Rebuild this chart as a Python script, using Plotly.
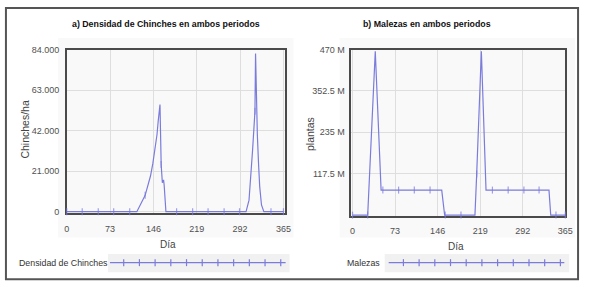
import plotly.graph_objects as go

W, H = 589, 287

# ---------------- data ----------------
chin_days = [0, 26, 53, 79, 106, 118, 132, 141, 145, 149, 152, 154, 156, 157,
             158, 159, 161, 163, 164, 167, 185, 212, 238, 265, 291, 302, 307, 310, 313,
             315, 317, 318, 319, 321, 323, 325, 328, 332, 344, 365]
chin_vals = [0, 0, 0, 0, 0, 0, 8500, 18500, 25000, 33500, 40000, 47000, 52000, 55500,
             40000, 24500, 15000, 16500, 14000, 0, 0, 0, 0, 0, 0, 0, 6000, 17000, 32000,
             42000, 52000, 82000, 62000, 40000, 25000, 13000, 3500, 0, 0, 0]
chin_marker_days = [0, 26, 53, 79, 106, 132, 159, 185, 212, 238, 265, 291, 317, 344, 365]

mal_days = [0, 26, 39, 49, 52, 79, 106, 133, 153, 158, 159, 186, 210, 213, 221, 229,
            240, 267, 294, 320, 337, 340, 349, 365]
mal_vals_M = [0, 0, 465, 71, 71, 71, 71, 71, 71, 0, 0, 0, 0, 117, 465, 71,
              71, 71, 71, 71, 71, 0, 0, 0]
mal_marker_days = [0, 26, 52, 79, 106, 133, 159, 186, 213, 240, 267, 294, 320, 349, 365]

x_ticks = [0, 73, 146, 219, 292, 365]
chin_yticks = [0, 21000, 42000, 63000, 84000]
chin_yticktext = ["0", "21.000", "42.000", "63.000", "84.000"]
mal_yticks = [117.5e6, 235e6, 352.5e6, 470e6]
mal_yticktext = ["117.5 M", "235 M", "352.5 M", "470 M"]

title_a = "a) Densidad de Chinches en ambos periodos"
title_b = "b) Malezas en ambos periodos"
ylab_a = "Chinches/ha"
ylab_b = "plantas"
xlab = "Día"
leg_a = "Densidad de Chinches"
leg_b = "Malezas"
legend_marks = list(range(11))

# ---------------- style ----------------
FONT = "Liberation Sans Narrow, Arial Narrow, Liberation Sans, Arial, sans-serif"
LINE = "#7b7bdc"
AX = "#4a4a4a"
GRID = "#dedede"
TICKC = "#505050"
TS = 9

def px(x):
    return x / W

def py(y):
    return 1 - y / H

mal_vals = [v * 1e6 for v in mal_vals_M]

fig = go.Figure()

fig.add_trace(go.Scatter(
    x=chin_days, y=chin_vals, mode="lines+markers", xaxis="x", yaxis="y",
    line=dict(color=LINE, width=1.2),
    marker=dict(symbol="line-ns", size=[5 if d in chin_marker_days else 0 for d in chin_days],
                line=dict(color=LINE, width=1.2)),
    cliponaxis=False, showlegend=False, hoverinfo="skip"))

fig.add_trace(go.Scatter(
    x=mal_days, y=mal_vals, mode="lines+markers", xaxis="x2", yaxis="y2",
    line=dict(color=LINE, width=1.2),
    marker=dict(symbol="line-ns", size=[5 if d in mal_marker_days else 0 for d in mal_days],
                line=dict(color=LINE, width=1.2)),
    cliponaxis=False, showlegend=False, hoverinfo="skip"))

# legend samples
fig.add_trace(go.Scatter(
    x=legend_marks, y=[0] * len(legend_marks), mode="markers", xaxis="x3", yaxis="y3",
    marker=dict(symbol="line-ns", size=5, line=dict(color=LINE, width=1.2)),
    cliponaxis=False, showlegend=False, hoverinfo="skip"))
fig.add_trace(go.Scatter(
    x=legend_marks, y=[0] * len(legend_marks), mode="markers", xaxis="x4", yaxis="y4",
    marker=dict(symbol="line-ns", size=5, line=dict(color=LINE, width=1.2)),
    cliponaxis=False, showlegend=False, hoverinfo="skip"))

tickfont = dict(family=FONT, size=TS, color=TICKC)

def xaxis(domain, anchor, rng, standoff):
    return dict(domain=domain, anchor=anchor, range=rng, tickvals=x_ticks,
                showgrid=True, gridcolor=GRID, gridwidth=1, zeroline=False,
                showline=True, mirror=True, linecolor=AX, linewidth=1.5,
                ticks="", ticklen=0, tickfont=tickfont, ticklabelstandoff=standoff,
                layer="below traces", fixedrange=True)

def yaxis(domain, anchor, rng, vals, text, standoff):
    return dict(domain=domain, anchor=anchor, range=rng, tickvals=vals, ticktext=text,
                showgrid=True, gridcolor=GRID, gridwidth=1, zeroline=False,
                showline=True, mirror=True, linecolor=AX, linewidth=1.5,
                ticks="", ticklen=0, tickfont=tickfont, ticklabelstandoff=standoff,
                layer="below traces", fixedrange=True)

hidden = dict(visible=False, fixedrange=True)

fig.update_layout(
    width=W, height=H, margin=dict(l=0, r=0, t=0, b=0),
    paper_bgcolor="white", plot_bgcolor="#f6f6f6",
    font=dict(family=FONT, size=TS, color=TICKC),
    xaxis=xaxis([px(65), px(287)], "y", [0, 367], 6),
    yaxis=yaxis([py(215), py(46)], "x", [-800, 84000], chin_yticks, chin_yticktext, 4),
    xaxis2=xaxis([px(355), px(573)], "y2", [-2, 365], 5),
    yaxis2=yaxis([py(218), py(46)], "x2", [-3e6, 470e6], mal_yticks, mal_yticktext, 3),
    xaxis3=dict(domain=[px(109), px(288)], anchor="y3", range=[-0.875, 10.31], **hidden),
    yaxis3=dict(domain=[py(271), py(261)], anchor="x3", range=[-1, 1], **hidden),
    xaxis4=dict(domain=[px(393), px(572)], anchor="y4", range=[-0.94, 10.25], **hidden),
    yaxis4=dict(domain=[py(271), py(261)], anchor="x4", range=[-1, 1], **hidden),
)

shapes = [
    # faint panel backgrounds
    dict(type="rect", xref="paper", yref="paper", x0=px(56), x1=px(296), y0=py(240), y1=py(34),
         fillcolor="#f9f9f9", line=dict(width=0), layer="below"),
    dict(type="rect", xref="paper", yref="paper", x0=px(343), x1=px(583), y0=py(240), y1=py(34),
         fillcolor="#f9f9f9", line=dict(width=0), layer="below"),
    # legend backgrounds
    dict(type="rect", xref="paper", yref="paper", x0=px(107), x1=px(292), y0=py(276), y1=py(257),
         fillcolor="#f1f1f1", line=dict(width=0), layer="below"),
    dict(type="rect", xref="paper", yref="paper", x0=px(389), x1=px(577), y0=py(276), y1=py(257),
         fillcolor="#f1f1f1", line=dict(width=0), layer="below"),
    # legend lines
    dict(type="line", xref="x3 domain", yref="y3", x0=0, x1=1, y0=0, y1=0,
         line=dict(color=LINE, width=1.2)),
    dict(type="line", xref="x4 domain", yref="y4", x0=0, x1=1, y0=0, y1=0,
         line=dict(color=LINE, width=1.2)),
    # outer frame
    dict(type="rect", xref="paper", yref="paper", x0=px(3), x1=px(586), y0=py(283), y1=py(3),
         line=dict(color="#555555", width=2), fillcolor="rgba(0,0,0,0)"),
]
fig.update_layout(shapes=shapes)

ann = [
    dict(text="<b>" + title_a + "</b>", x=px(166), y=py(20), font=dict(size=8.8, color="#111")),
    dict(text="<b>" + title_b + "</b>", x=px(432), y=py(20), font=dict(size=8.8, color="#111")),
    dict(text=ylab_a, x=px(22), y=py(128), textangle=-90, font=dict(size=10.5, color="#444")),
    dict(text=ylab_b, x=px(313), y=py(133), textangle=-90, font=dict(size=10.5, color="#444")),
    dict(text=xlab, x=px(168), y=py(247), font=dict(size=10, color="#444")),
    dict(text=xlab, x=px(462), y=py(249), font=dict(size=10, color="#444")),
    dict(text=leg_a, x=px(109), y=py(266), xanchor="right", font=dict(size=8.8, color="#333")),
    dict(text=leg_b, x=px(386), y=py(266), xanchor="right", font=dict(size=8.8, color="#333")),
]
for a in ann:
    a.setdefault("xanchor", "center")
    a.update(xref="paper", yref="paper", yanchor="middle", showarrow=False)
fig.update_layout(annotations=ann)

fig.write_html("out.html", config={"displayModeBar": False},
               post_script="document.body.style.margin='0';document.body.style.overflow='hidden';")
